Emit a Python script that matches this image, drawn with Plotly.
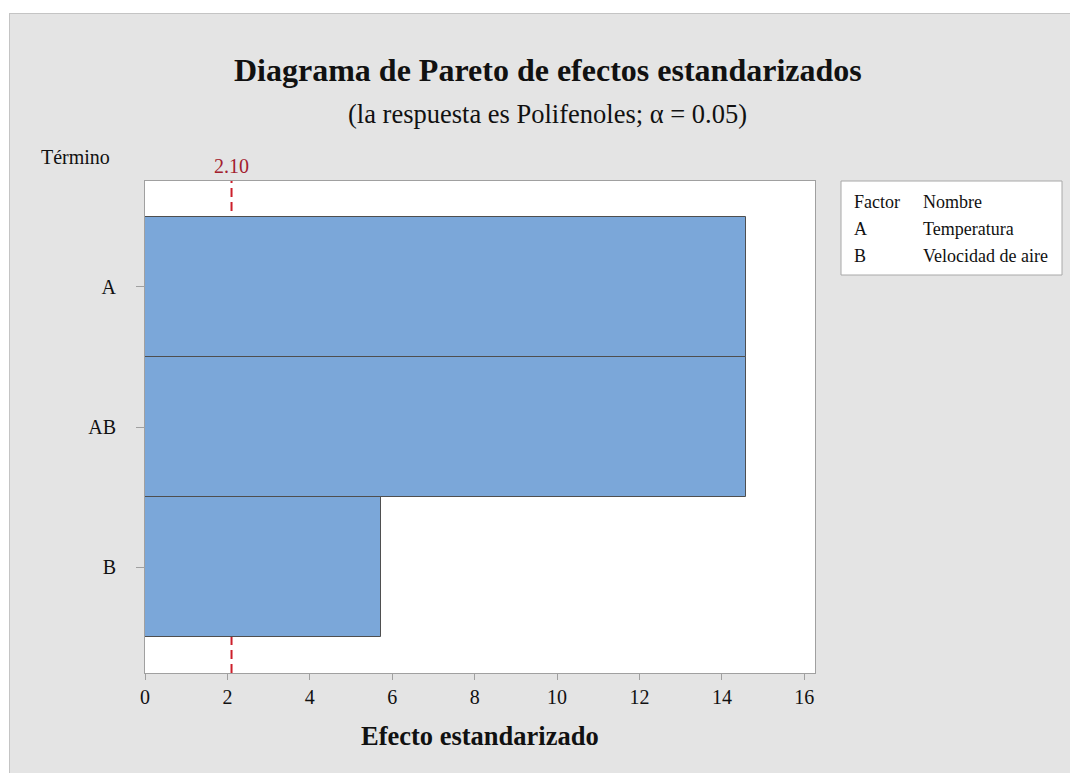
import plotly.graph_objects as go

terms = ["A", "AB", "B"]
effects = [14.58, 14.58, 5.73]
critical = 2.10
x_ticks = [0, 2, 4, 6, 8, 10, 12, 14, 16]
factor_codes = ["A", "B"]
factor_names = ["Temperatura", "Velocidad de aire"]

# page body has an 8px margin; work in reference-window pixels
OFF = 8
WIN_W, WIN_H = 1078, 773
W, H = WIN_W - OFF, WIN_H - OFF
L, R, T, B = 145, 815, 181, 673
FONT = "Liberation Serif"


def px(x):
    return (x - L) / (R - L)


def py(y):
    return (B - y) / (B - T)


fig = go.Figure()
fig.add_trace(go.Bar(
    x=effects, y=terms, orientation="h",
    marker=dict(color="#7ba7d9", line=dict(color="#4f4f4f", width=1)),
    width=1.0, hoverinfo="x+y",
))

shapes = []
shapes.append(dict(type="line", xref="x", yref="paper", x0=critical, x1=critical,
                   y0=0, y1=1, layer="below",
                   line=dict(color="#cc1f2b", width=2, dash="9px,5px")))
shapes.append(dict(type="rect", xref="paper", yref="paper", x0=px(-5), x1=px(9),
                   y0=py(-5), y1=py(WIN_H + 5), fillcolor="white", line=dict(width=0), layer="below"))
shapes.append(dict(type="rect", xref="paper", yref="paper", x0=px(-5), x1=px(WIN_W + 5),
                   y0=py(13), y1=py(-5), fillcolor="white", line=dict(width=0), layer="below"))
shapes.append(dict(type="line", xref="paper", yref="paper", x0=px(9.5), x1=px(9.5),
                   y0=py(13), y1=py(WIN_H + 5), line=dict(color="#c4c4c4", width=1), layer="below"))
shapes.append(dict(type="line", xref="paper", yref="paper", x0=px(9.5), x1=px(WIN_W + 5),
                   y0=py(13.5), y1=py(13.5), line=dict(color="#c4c4c4", width=1), layer="below"))
shapes.append(dict(type="rect", xref="paper", yref="paper", x0=px(841), x1=px(1062),
                   y0=py(275), y1=py(181), fillcolor="white",
                   line=dict(color="#a8a8a8", width=1), layer="below"))
fig.update_layout(shapes=shapes)

ann = []


def add_text(text, x, y, size, bold=False, color="#111111", xanchor="center", xref="paper"):
    ann.append(dict(text=("<b>%s</b>" % text) if bold else text, x=x, y=py(y),
                    xref=xref, yref="paper", showarrow=False,
                    xanchor=xanchor, yanchor="middle",
                    font=dict(family=FONT, size=size, color=color)))


add_text("Diagrama de Pareto de efectos estandarizados", px(547.5), 70, 32, bold=True)
add_text("(la respuesta es Polifenoles; α = 0.05)", px(547.5), 114, 26.5)
add_text("Efecto estandarizado", px(480), 736, 26.5, bold=True)
add_text("Término", px(39), 157, 20, xanchor="left")
add_text("%.2f" % critical, critical, 166, 20, color="#a3202e", xref="x")

rows_y = [202, 229, 256]
add_text("Factor", px(852), rows_y[0], 18, xanchor="left")
add_text("Nombre", px(921), rows_y[0], 18, xanchor="left")
for i, (c, n) in enumerate(zip(factor_codes, factor_names)):
    add_text(c, px(852), rows_y[i + 1], 18, xanchor="left")
    add_text(n, px(921), rows_y[i + 1], 18, xanchor="left")

fig.update_layout(annotations=ann)

fig.update_layout(
    width=W, height=H,
    margin=dict(l=L - OFF, r=WIN_W - R, t=T - OFF, b=WIN_H - B, pad=0),
    paper_bgcolor="#e4e4e4", plot_bgcolor="white",
    showlegend=False, bargap=0,
    font=dict(family=FONT, size=20, color="#111111"),
    xaxis=dict(range=[0, 16.26], tickvals=x_ticks, ticks="outside", ticklen=6,
               tickcolor="#a0a0a0", showgrid=False, zeroline=False,
               showline=True, linecolor="#a0a0a0", linewidth=1, mirror=True,
               tickfont=dict(family=FONT, size=20, color="#111111")),
    yaxis=dict(categoryorder="array", categoryarray=terms,
               range=[2.757, -0.757], ticks="outside", ticklen=8,
               tickcolor="#a0a0a0", showgrid=False, zeroline=False,
               showline=True, linecolor="#a0a0a0", linewidth=1, mirror=True,
               ticklabelstandoff=16,
               tickfont=dict(family=FONT, size=20, color="#111111")),
)

fig.write_html("out.html")
